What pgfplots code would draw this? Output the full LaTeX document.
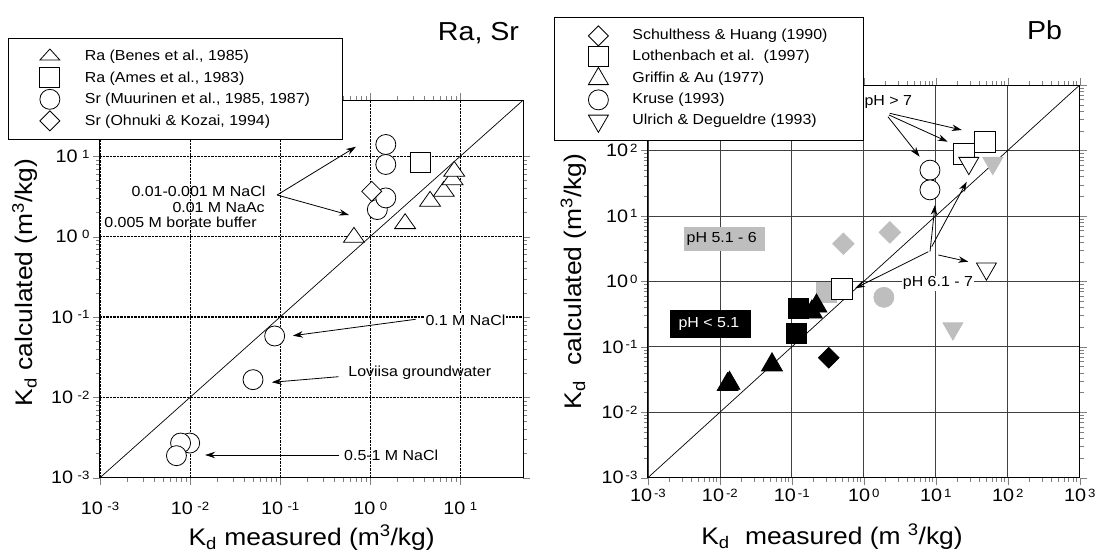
\documentclass[border=0pt]{standalone}
\usepackage{fontspec}
\setmainfont{Liberation Sans}[FakeStretch=1.1]
\usepackage{pgfplots}
\pgfplotsset{compat=1.18}
\usetikzlibrary{arrows.meta}
\definecolor{lgray}{RGB}{190,190,190}
\newcommand{\fs}[1]{\fontsize{#1}{#1}\selectfont}
\newcommand{\tkl}[1]{10\hspace{4.5pt}\raisebox{4.2pt}{\fs{12}#1}}
\newcommand{\tkr}[1]{10\hspace{2pt}\raisebox{4.2pt}{\fs{12}#1}}
\pgfplotsset{
  wm/.style={only marks, mark options={fill=white, draw=black, line width=0.8pt, #1}}, wm/.default={},
  gm/.style={only marks, mark options={fill=lgray, draw=lgray, line width=0.8pt, #1}}, gm/.default={},
  bm/.style={only marks, mark options={fill=black, draw=black, line width=0.8pt, #1}}, bm/.default={},
}
\begin{document}
\begin{tikzpicture}
\useasboundingbox (0,0) rectangle (1102pt,552pt);
% ---------------- left: Ra, Sr ----------------
\begin{loglogaxis}[scale only axis, anchor=south west,
  at={(100pt,74.3pt)}, width=423.3pt, height=377.7pt,
  tick align=outside, major tick length=7pt, minor tick length=4pt,
  axis line style={line width=1pt},
  ticklabel style={font=\fs{18}},
  xticklabel style={yshift=-14pt},
  label style={font=\fs{24}},
  legend cell align=left,
  legend image code/.code={\draw[#1] plot coordinates {(0pt,0pt)};},
  xmin=1e-3, xmax=50.1, ymin=1e-3, ymax=50.1,
  xtick={1e-3,1e-2,1e-1,1,10}, xticklabels={\tkl{-3},\tkl{-2},\tkl{-1},\tkl{0},\tkl{1}},
  ytick={1e-3,1e-2,1e-1,1,10}, yticklabels={\tkl{-3},\tkl{-2},\tkl{-1},\tkl{0},\tkl{1}},
  grid=major,
  x grid style={densely dotted, black, line width=0.7pt},
  y grid style={densely dotted, black, line width=1.2pt},
  xlabel={K\textsubscript{d} measured (m\textsuperscript{3}/kg)},
  ylabel={K\textsubscript{d} calculated (m\textsuperscript{3}/kg)},
  xlabel style={at={(axis description cs:0.5,-0.1597)}, anchor=center},
  ylabel style={at={(axis description cs:-0.1772,0.517)}, anchor=center},
  legend style={at={(-0.2162,1.165)}, anchor=north west, draw=black, line width=0.8pt, fill=white,
    font=\fs{14.5}, inner xsep=31pt, inner ysep=7.5pt, row sep=0pt, column sep=24pt,
    nodes={inner sep=1pt, text height=14pt, text depth=5.5pt}},
]
\addlegendimage{mark=triangle*, mark size=11.5pt, mark options={fill=white, draw=black, line width=0.8pt, yscale=0.64}}
\addlegendentry{Ra (Benes et al., 1985)}
\addlegendimage{mark=square*, mark size=10pt, mark options={fill=white, draw=black, line width=0.8pt}}
\addlegendentry{Ra (Ames et al., 1983)}
\addlegendimage{mark=*, mark size=10pt, mark options={fill=white, draw=black, line width=0.8pt}}
\addlegendentry{Sr (Muurinen et al., 1985, 1987)}
\addlegendimage{mark=square*, mark size=7.07pt, mark options={fill=white, draw=black, line width=0.8pt, rotate=45}}
\addlegendentry{Sr (Ohnuki \& Kozai, 1994)}
\addplot[forget plot, black, line width=0.7pt] coordinates {(1e-3,1e-3) (50.1,50.1)};
% Ra (Benes)
\addplot[forget plot, wm={yscale=0.82}, mark=triangle*, mark size=12.1pt] coordinates {
(0.66,0.98) (2.44,1.45) (4.62,2.75) (6.56,3.66) (8.2,5.1) (8.57,6.5)};
% Ra (Ames)
\addplot[forget plot, wm, mark=square*, mark size=10pt] coordinates {(3.64,8.3)};
% Sr (Muurinen)
\addplot[forget plot, wm, mark=*, mark size=10pt] coordinates {
(1.49,14.0) (1.49,7.9) (1.20,2.17) (1.49,3.03)
(0.087,0.058) (0.050,0.0166)
(0.0099,0.0027) (0.00785,0.0027) (0.00706,0.00188)};
% Sr (Ohnuki)
\addplot[forget plot, wm={rotate=45}, mark=square*, mark size=7.07pt] coordinates {(1.04,3.66)};
\end{loglogaxis}
% ---------------- right: Pb ----------------
\begin{loglogaxis}[scale only axis, anchor=south west,
  at={(647.9pt,74.3pt)}, width=431.8pt, height=392.7pt,
  tick align=outside, major tick length=7pt, minor tick length=4pt,
  axis line style={line width=1pt},
  ticklabel style={font=\fs{18}},
  xticklabel style={yshift=-1pt},
  label style={font=\fs{24}},
  legend cell align=left,
  legend image code/.code={\draw[#1] plot coordinates {(0pt,0pt)};},
  xmin=1e-3, xmax=1e3, ymin=1e-3, ymax=1e3,
  xtick={1e-3,1e-2,1e-1,1,10,100,1000},
  xticklabels={\tkr{-3},\tkr{-2},\tkr{-1},\tkr{0},\tkr{1},\tkr{2},\tkr{3}},
  ytick={1e-3,1e-2,1e-1,1,10,100,1000},
  yticklabels={\tkr{-3},\tkr{-2},\tkr{-1},\tkr{0},\tkr{1},\tkr{2},\tkr{3}},
  grid=major,
  major grid style={solid, black!75, line width=0.7pt},
  xlabel={K\textsubscript{d}\,\, measured (m \textsuperscript{3}/kg)},
  ylabel={K\textsubscript{d}\,\, calculated (m\textsuperscript{3}/kg)},
  xlabel style={at={(axis description cs:0.4264,-0.150)}, anchor=center},
  ylabel style={at={(axis description cs:-0.1723,0.5)}, anchor=center},
  legend style={at={(-0.2186,1.174)}, anchor=north west, draw=black, line width=0.8pt, fill=white,
    font=\fs{14.5}, inner xsep=34.5pt, inner ysep=8.3pt, row sep=0pt, column sep=23pt,
    nodes={inner sep=1pt, text height=13.5pt, text depth=5.5pt}},
]
\addlegendimage{mark=square*, mark size=7.07pt, mark options={fill=white, draw=black, line width=0.8pt, rotate=45}}
\addlegendentry{Schulthess \& Huang (1990)}
\addlegendimage{mark=square*, mark size=10pt, mark options={fill=white, draw=black, line width=0.8pt}}
\addlegendentry{Lothenbach et al.\ \ (1997)}
\addlegendimage{mark=triangle*, mark size=11.5pt, mark options={fill=white, draw=black, line width=0.8pt}}
\addlegendentry{Griffin \& Au (1977)}
\addlegendimage{mark=*, mark size=10pt, mark options={fill=white, draw=black, line width=0.8pt}}
\addlegendentry{Kruse (1993)}
\addlegendimage{mark=triangle*, mark size=11.5pt, mark options={fill=white, draw=black, line width=0.8pt, rotate=180}}
\addlegendentry{Ulrich \& Degueldre (1993)}
\addplot[forget plot, black, line width=0.7pt] coordinates {(1e-3,1e-3) (1e3,1e3)};
% grey (pH 5.1 - 6)
\addplot[forget plot, gm={rotate=45}, mark=square*, mark size=7.6pt] coordinates {(0.52,3.75) (2.3,5.6)};
\addplot[forget plot, gm, mark=square*, mark size=10pt] coordinates {(0.30,0.68)};
\addplot[forget plot, gm, mark=*, mark size=10pt] coordinates {(1.9,0.57)};
\addplot[forget plot, gm={rotate=180}, mark=triangle*, mark size=11.5pt] coordinates {(62,64) (17.3,0.19)};
% black (pH < 5.1)
\addplot[forget plot, bm, mark=square*, mark size=10pt] coordinates {(0.123,0.38) (0.114,0.16)};
\addplot[forget plot, bm, mark=triangle*, mark size=12pt] coordinates {
(0.22,0.42) (0.19,0.34) (0.053,0.053) (0.0136,0.0277) (0.0128,0.0265)};
\addplot[forget plot, bm={rotate=45}, mark=square*, mark size=7.3pt] coordinates {(0.326,0.068)};
% white (pH > 7 and pH 6.1 - 7)
\addplot[forget plot, wm, mark=*, mark size=10pt] coordinates {(8.3,50) (8.3,25)};
\addplot[forget plot, wm, mark=square*, mark size=10.5pt] coordinates {(24.3,88) (48.9,136) (0.49,0.77)};
\addplot[forget plot, wm={rotate=180}, mark=triangle*, mark size=11.5pt] coordinates {(28.8,64) (50.6,1.56)};
\end{loglogaxis}
% ---------------- annotations ----------------
\begin{scope}[x=1pt, y=1pt, shift={(0pt,552pt)}, yscale=-1,
  arr/.style={line width=0.8pt, -{Stealth[length=10pt, width=6.5pt]}},
  lab/.style={font=\fs{14.5}, inner sep=1pt}]
\node[font=\fs{26}] at (478.5,33) {Ra, Sr};
\node[font=\fs{26}] at (1044.5,30) {Pb};
% left
\node[lab, anchor=east] at (266.6,191.7) {0.01-0.001 M NaCl};
\node[lab, anchor=east] at (265.9,207.3) {0.01 M NaAc};
\node[lab, anchor=east] at (257.8,222.7) {0.005 M borate buffer};
\draw[arr] (277.1,195) -- (356,146.7);
\draw[arr] (277.1,195) -- (349,215);
\node[lab, anchor=west, fill=white] at (424.4,320.7) {0.1 M NaCl};
\draw[arr] (415.6,319.3) -- (292.9,335.7);
\node[lab, anchor=west] at (347.2,372.7) {Loviisa groundwater};
\draw[arr] (338.5,376.7) -- (271.8,382.3);
\node[lab, anchor=west] at (343,455) {0.5-1 M NaCl};
\draw[arr] (338.5,455) -- (205.2,455);
% right
\node[lab, anchor=west] at (863.3,102.3) {pH > 7};
\draw[arr] (889.7,113.3) -- (961.8,130);
\draw[arr] (889,115) -- (947.7,141.7);
\draw[arr] (887.9,116.7) -- (919.6,156.7);
\node[lab, anchor=west, fill=white] at (901.7,283.3) {pH 6.1 - 7};
\draw[arr] (928.3,251.7) -- (855,288.3);
\draw[arr] (930,251.7) -- (935,205);
\draw[arr] (931.7,246.7) -- (966.7,181.7);
\draw[arr] (938.3,255) -- (968.3,261.7);
\fill[lgray] (683.8,226.7) rectangle (765.4,250.7);
\node[lab, anchor=west] at (685.5,238.7) {pH 5.1 - 6};
\fill[black] (670.4,310) rectangle (750.6,338.3);
\node[lab, anchor=west, text=white] at (677.4,324.2) {pH < 5.1};
\end{scope}
\end{tikzpicture}
\end{document}
